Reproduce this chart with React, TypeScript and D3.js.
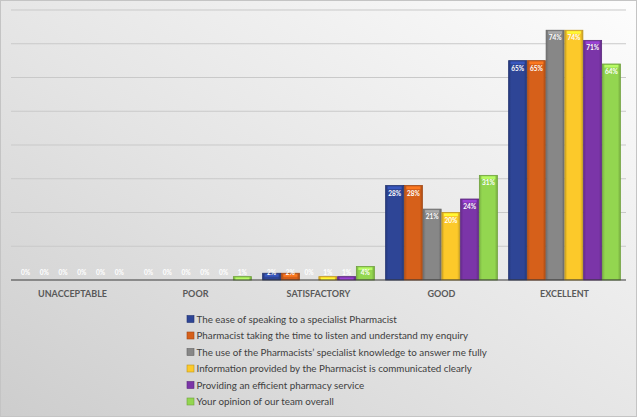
import * as d3 from "d3";
import React from "react";

// Survey categories and series
const categories = ["UNACCEPTABLE", "POOR", "SATISFACTORY", "GOOD", "EXCELLENT"];
const seriesNames = [
  "The ease of speaking to a specialist Pharmacist",
  "Pharmacist taking the time to listen and understand my enquiry",
  "The use of the Pharmacists\u2019 specialist knowledge to answer me fully",
  "Information provided by the Pharmacist is communicated clearly",
  "Providing an efficient pharmacy service",
  "Your opinion of our team overall",
];
const seriesColors = ["#2e4596", "#d6601a", "#878787", "#fcc92a", "#7b35a8", "#93d650"];
// values[series][category], percent
const ease = [0, 0, 2, 28, 65];
const listen = [0, 0, 2, 28, 65];
const knowledge = [0, 0, 0, 21, 74];
const information = [0, 0, 1, 20, 74];
const efficient = [0, 0, 1, 24, 71];
const overall = [0, 1, 4, 31, 64];
const values = [ease, listen, knowledge, information, efficient, overall];
const yTicks = [0, 10, 20, 30, 40, 50, 60, 70, 80];

const W = 640;
const H = 418;

export default function App() {
  const margin = { top: 10, right: 14, bottom: 138, left: 11 };
  const x0 = d3
    .scaleBand<string>()
    .domain(categories)
    .range([margin.left, W - margin.right])
    .paddingInner(0)
    .paddingOuter(0);
  const x1 = d3
    .scaleBand<number>()
    .domain(d3.range(seriesNames.length))
    .range([0, x0.bandwidth()])
    .paddingOuter(0.3)
    .paddingInner(0.04);
  const y = d3
    .scaleLinear()
    .domain([0, 80])
    .range([H - margin.bottom, margin.top]);
  const base = y(0);

  return (
    <svg width={W} height={H} style={{ position: "absolute", left: 0, top: 0 }}>
      <defs>
        <linearGradient id="bg" x1="1" y1="0" x2="0" y2="1">
          <stop offset="0" stopColor="#fdfdfd" />
          <stop offset="0.55" stopColor="#e4e4e4" />
          <stop offset="1" stopColor="#cdcdcd" />
        </linearGradient>
        {seriesColors.map((c, i) => (
          <linearGradient key={i} id={`bar${i}`} x1="0" y1="0" x2="1" y2="0">
            <stop offset="0" stopColor={d3.color(c)!.darker(0.5).toString()} />
            <stop offset="0.15" stopColor={c} />
            <stop offset="0.85" stopColor={c} />
            <stop offset="1" stopColor={d3.color(c)!.darker(0.6).toString()} />
          </linearGradient>
        ))}
      </defs>
      <rect x={0.5} y={0.5} width={W - 4} height={H - 2} fill="url(#bg)" stroke="#c4c4c4" />

      {/* gridlines */}
      {yTicks.slice(1).map((t) => (
        <line
          key={t}
          x1={margin.left}
          x2={W - margin.right}
          y1={y(t)}
          y2={y(t)}
          stroke="#c9c9c9"
          strokeWidth={1}
        />
      ))}

      {/* bars */}
      {categories.map((cat, ci) => (
        <g key={cat} transform={`translate(${x0(cat)},0)`}>
          {values.map((vals, si) => {
            const v = vals[ci];
            const bx = x1(si)!;
            const bw = x1.bandwidth();
            const top = y(v);
            const h = base - top;
            const c = seriesColors[si];
            const labelY = Math.min(top + 10, base - 5);
            return (
              <g key={si}>
                {v > 0 && (
                  <>
                    <rect
                      x={bx}
                      y={top}
                      width={bw}
                      height={h}
                      fill={`url(#bar${si})`}
                      stroke={d3.color(c)!.darker(0.8).toString()}
                      strokeWidth={0.8}
                    />
                    <rect
                      x={bx + 2}
                      y={top + 1}
                      width={bw - 4}
                      height={Math.min(2.5, h - 1)}
                      fill={d3.color(c)!.brighter(0.7).toString()}
                      opacity={0.9}
                    />
                  </>
                )}
                <text
                  x={bx + bw / 2}
                  y={labelY}
                  textAnchor="middle"
                  fontFamily="Lato, 'Open Sans', sans-serif"
                  fontWeight="bold"
                  fontSize={6.5}
                  fill="#ffffff"
                >
                  {`${v}%`}
                </text>
              </g>
            );
          })}
          <text
            x={x0.bandwidth() / 2}
            y={base + 17}
            textAnchor="middle"
            fontFamily="Lato, 'Open Sans', sans-serif"
            fontWeight="bold"
            fontSize={9}
            fill="#595959"
          >
            {cat}
          </text>
        </g>
      ))}

      {/* baseline */}
      <line x1={margin.left} x2={W - margin.right} y1={base} y2={base} stroke="#3a3a3a" strokeWidth={1.2} />

      {/* legend */}
      {seriesNames.map((name, i) => {
        const ly = 319 + i * 16.5;
        return (
          <g key={name} transform={`translate(187,${ly})`}>
            <rect x={0} y={-3.5} width={7} height={7} fill={seriesColors[i]} stroke={d3.color(seriesColors[i])!.darker(0.8).toString()} strokeWidth={0.6} />
            <text
              x={9.5}
              y={3.5}
              fontFamily="Lato, 'Open Sans', sans-serif"
              fontSize={9.8}
              fill="#404040"
            >
              {name}
            </text>
          </g>
        );
      })}
    </svg>
  );
}
